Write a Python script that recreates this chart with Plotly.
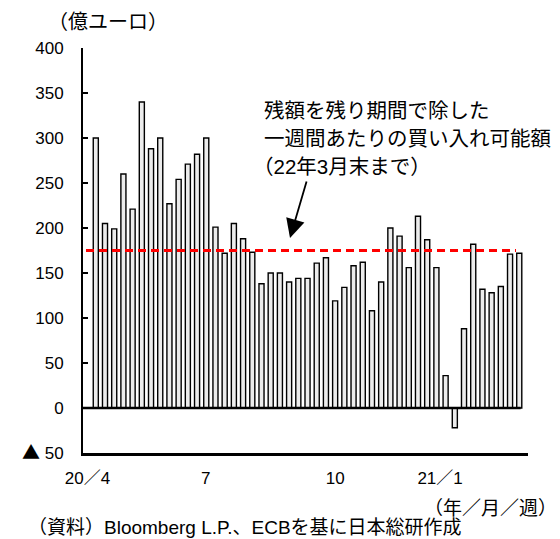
import plotly.graph_objects as go

# ---- data ----
weekly_purchases = [300, 205, 199, 260, 221, 340, 288, 300, 227, 254, 271, 282, 300,
                    201, 172, 205, 188, 173,
                    138, 150, 150, 140, 144, 144, 161, 167, 119, 134, 158, 162, 108, 140, 200,
                    191, 156, 213, 187, 156,
                    36, -22, 88, 182, 132, 128, 135, 171, 172]
weekly_pace = 175
x_tick_pos = [-0.9, 11.95, 26, 37.4]
x_tick_text = ["20／4", "7", "10", "21／1"]
y_tick_vals = [400, 350, 300, 250, 200, 150, 100, 50, 0, -50]
y_tick_text = ["400", "350", "300", "250", "200", "150", "100", "50", "0",
               '<span style="font-family:Noto Sans CJK JP;font-size:18px">▲</span> 50']

weeks = list(range(len(weekly_purchases)))

FONT = "Liberation Sans, Arial, Noto Sans CJK JP, sans-serif"
JFONT = "Liberation Sans, Noto Sans CJK JP, sans-serif"

L, R, T, B = 83, 32, 48, 86
W, H = 560, 539
PW = W - L - R
PH = H - T - B
X0, X1 = -1.39, 46.95

def px_x(p):
    return (p - L) / PW

def px_y(p):
    return 1 - (p - T) / PH

fig = go.Figure()
fig.add_trace(go.Bar(
    x=weeks, y=weekly_purchases, width=0.55,
    marker=dict(color="#ececec", line=dict(color="black", width=1.4)),
    showlegend=False, hoverinfo="skip",
))

# zero line
fig.add_shape(type="line", xref="x", yref="y", x0=X0, x1=46.15, y0=0, y1=0,
              line=dict(color="black", width=2.6))
# pace line
fig.add_shape(type="line", xref="paper", yref="y", x0=px_x(86), x1=px_x(516),
              y0=weekly_pace, y1=weekly_pace,
              line=dict(color="#ff0000", width=3, dash="8px,5px"))

ann = []
ann.append(dict(text="（億ユーロ）", xref="paper", yref="paper", x=px_x(46), y=px_y(22),
                xanchor="left", yanchor="middle", showarrow=False,
                font=dict(family=JFONT, size=20, color="black")))
for txt, xl, yc in [("残額を残り期間で除した", 262, 110),
                    ("一週間あたりの買い入れ可能額", 262, 138),
                    ("（22年3月末まで）", 251, 166)]:
    ann.append(dict(text=txt, xref="paper", yref="paper", x=px_x(xl), y=px_y(yc),
                    xanchor="left", yanchor="middle", showarrow=False,
                    font=dict(family=JFONT, size=20.5, color="black")))
ann.append(dict(text="", xref="paper", yref="paper", x=px_x(290), y=px_y(238),
                ax=17, ay=-58, showarrow=True, arrowhead=2, arrowsize=2.1,
                arrowwidth=1.8, arrowcolor="black"))
ann.append(dict(text="（年／月／週）", xref="paper", yref="paper", x=px_x(559), y=px_y(508),
                xanchor="right", yanchor="middle", showarrow=False,
                font=dict(family=JFONT, size=19, color="black")))
ann.append(dict(text="（資料）Bloomberg L.P.、ECBを基に日本総研作成", xref="paper", yref="paper",
                x=px_x(26), y=px_y(527), xanchor="left", yanchor="middle", showarrow=False,
                font=dict(family=JFONT, size=19, color="black")))

fig.update_layout(
    width=W, height=H,
    margin=dict(l=L, r=R, t=T, b=B, pad=0),
    paper_bgcolor="white", plot_bgcolor="white",
    font=dict(family=FONT, size=17, color="black"),
    annotations=ann,
    bargap=0.4,
)
fig.update_xaxes(range=[X0, X1], tickmode="array", tickvals=x_tick_pos, ticktext=x_tick_text,
                 showgrid=False, zeroline=False, showline=True, linecolor="black", linewidth=2.6,
                 ticks="", ticklabelstandoff=8, tickfont=dict(family=JFONT, size=17))
fig.update_yaxes(range=[-50, 400], tickmode="array", tickvals=y_tick_vals, ticktext=y_tick_text,
                 showgrid=False, zeroline=False, showline=True, linecolor="black", linewidth=2,
                 ticks="inside", ticklen=5, tickwidth=2, tickcolor="black",
                 ticklabelstandoff=14, tickfont=dict(family=FONT, size=17))

fig.write_html("out.html")
